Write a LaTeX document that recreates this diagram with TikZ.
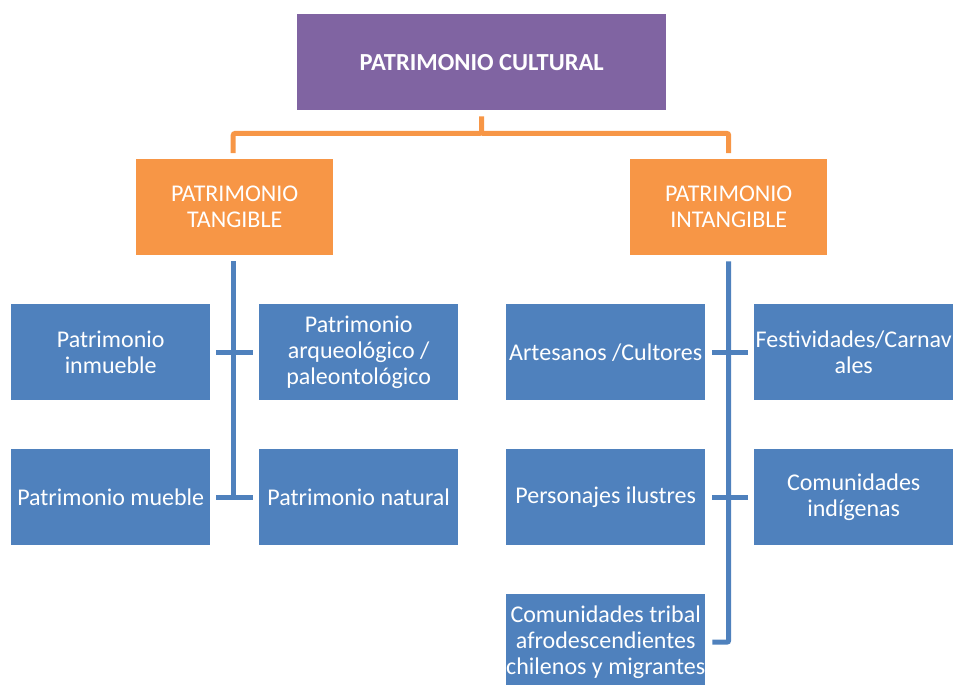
\documentclass[tikz,border=0pt]{standalone}
\usepackage{fontspec}
\setmainfont{Carlito}
\usetikzlibrary{calc}
\definecolor{purp}{HTML}{8064A2}
\definecolor{oran}{HTML}{F79646}
\definecolor{blu}{HTML}{4F81BD}
\tikzset{
  box/.style={anchor=north west, inner sep=0pt, text=white, align=center,
    font=\fontsize{24}{26}\selectfont},
  pbox/.style={box, fill=purp, minimum width=369pt, minimum height=96pt},
  obox/.style={box, fill=oran, minimum width=197pt, minimum height=96pt},
  bbox/.style={box, fill=blu, minimum width=199pt, minimum height=96pt},
  oline/.style={draw=oran, line width=5pt, rounded corners=2pt},
  bline/.style={draw=blu, line width=5pt, rounded corners=2pt},
}
\begin{document}
\begin{tikzpicture}[x=1pt,y=-1pt]
\useasboundingbox (0,0) rectangle (953,685);
\node[pbox, font=\fontsize{24.5}{26}\selectfont\bfseries] (top) at (297,14) {PATRIMONIO CULTURAL};
\node[obox] (tan) at (136,159) {PATRIMONIO\\TANGIBLE};
\node[obox] (int) at (630,159) {PATRIMONIO\\INTANGIBLE};
\node[bbox] (inm) at (11,304) {Patrimonio\\inmueble};
\node[bbox] (arq) at (259,304) {Patrimonio\\arqueológico /\\paleontológico};
\node[bbox] (mue) at (11,449) {Patrimonio mueble};
\node[bbox] (nat) at (259,449) {Patrimonio natural};
\node[bbox] (art) at (506,304) {Artesanos /Cultores};
\node[bbox] (fes) at (754,304) {Festividades/Carnav\\ales};
\node[bbox] (per) at (506,449) {Personajes ilustres};
\node[bbox] (ind) at (754,449) {Comunidades\\indígenas};
\node[bbox] (tri) at (506,594) {Comunidades tribal\\afrodescendientes\\chilenos y migrantes};
% orange connectors
\coordinate (j) at ($(top.south)+(0,6)$);
\draw[oline] (j) -- ($(j)+(0,17)$) -| ($(tan.north)+(-1.5,-6)$);
\draw[oline] ($(j)+(0,17)$) -| ($(int.north)+(0,-6)$);
% left blue tree
\coordinate (lt) at ($(tan.south)+(-1.5,6)$);
\coordinate (lb) at (lt |- mue.east);
\draw[bline, rounded corners=0pt] (lt) -- (lb);
\draw[bline] ($(inm.east)+(6,0)$) -- ($(arq.west)+(-6,0)$);
\draw[bline] ($(mue.east)+(6,0)$) -- ($(nat.west)+(-6,0)$);
% right blue tree
\coordinate (rt) at ($(int.south)+(0,6)$);
\coordinate (rb) at (rt |- tri.east);
\draw[bline] (rt) -- (rb) -- ($(tri.east)+(7,0)$);
\draw[bline] ($(art.east)+(7,0)$) -- ($(fes.west)+(-6,0)$);
\draw[bline] ($(per.east)+(7,0)$) -- ($(ind.west)+(-6,0)$);
\end{tikzpicture}
\end{document}
